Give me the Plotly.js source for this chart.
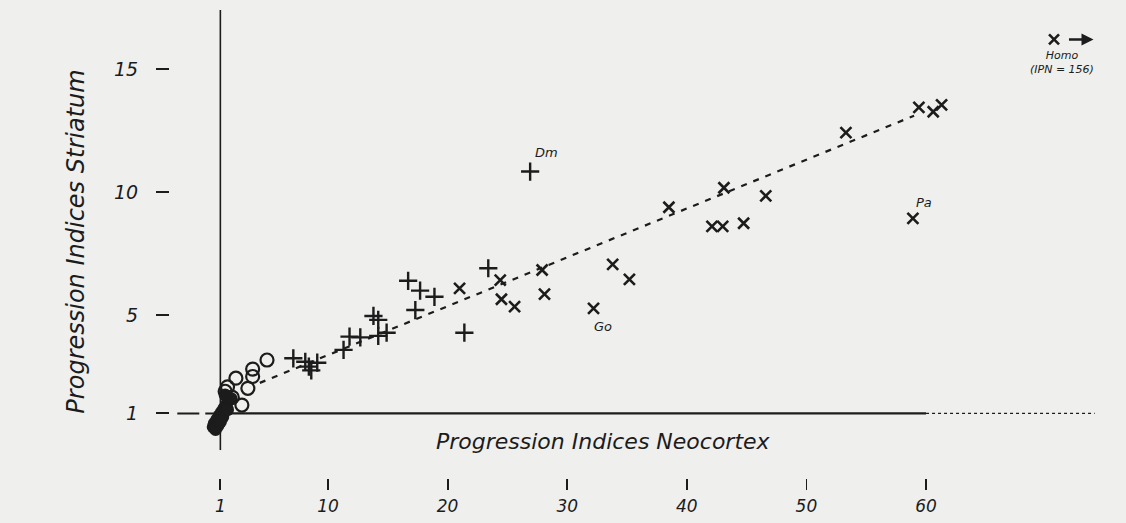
<!DOCTYPE html>
<html>
<head>
<meta charset="utf-8">
<script src="https://cdn.plot.ly/plotly-3.0.1.min.js"></script>
<style>
  html, body { margin: 0; padding: 0; background: #efefed; }
  #chart { width: 1126px; height: 523px; }
</style>
</head>
<body>
<div id="chart"></div>
<script>
// ---- data ----
// filled circles (cluster at origin)
const filledX = [0.4, 0.5, 0.7, 0.9, 1.1, 1.3, 1.5, 1.7, 0.8, 1.2, 1.6, 1.9, 1.4, 0.6, 1.0];
const filledY = [0.45, 0.6, 0.75, 0.9, 1.05, 1.2, 1.35, 1.55, 0.5, 0.85, 1.15, 1.6, 1.75, 0.35, 0.65];
// open circles
const openX = [4.9, 3.7, 3.7, 2.3, 3.3, 2.8, 1.6, 1.4, 2.0];
const openY = [3.17, 2.8, 2.5, 2.43, 2.02, 1.34, 2.08, 1.9, 1.65];
// plus markers
const plusX = [7.1, 8.1, 8.4, 9.1, 8.6, 11.3, 11.8, 12.7, 13.8, 14.2, 14.2, 14.9, 16.7, 17.7, 18.9, 17.3, 21.4, 23.4, 26.9];
const plusY = [3.24, 3.1, 2.9, 3.06, 2.75, 3.58, 4.12, 4.09, 4.96, 4.8, 4.15, 4.28, 6.39, 5.99, 5.74, 5.2, 4.28, 6.9, 10.83];
// x markers
const crossX = [21.0, 24.4, 24.5, 25.6, 27.9, 28.1, 33.8, 35.2, 32.2, 38.5, 43.1, 42.1, 43.0, 44.75, 46.6, 53.3, 59.4, 60.6, 61.3, 58.9];
const crossY = [6.08, 6.42, 5.64, 5.34, 6.83, 5.85, 7.06, 6.45, 5.27, 9.38, 10.17, 8.6, 8.6, 8.73, 9.84, 12.41, 13.44, 13.26, 13.54, 8.93];
// Homo (off-scale, shown at top right)
const homoX = [70.7];
const homoY = [16.2];
// regression line end points
const fitX = [4.3, 59.0];
const fitY = [2.24, 13.1];
// named points
const namedLabels = ['Dm', 'Go', 'Pa'];
const namedX = [26.9, 32.2, 58.9];
const namedY = [10.83, 5.27, 8.93];
// tick labels
const xTicks = [1, 10, 20, 30, 40, 50, 60];
const yTicks = [1, 5, 10, 15];

const INK = '#1c1c1c';
const FONT = 'DejaVu Sans, Liberation Sans, sans-serif';

const traces = [
  { x: fitX, y: fitY, mode: 'lines', line: { color: INK, width: 2.2, dash: '6px,7px' }, hoverinfo: 'skip' },
  { x: filledX, y: filledY, mode: 'markers', marker: { symbol: 'circle', size: 13, color: INK } },
  { x: openX, y: openY, mode: 'markers', marker: { symbol: 'circle-open', size: 13, color: INK, line: { width: 2.2, color: INK } } },
  { x: plusX, y: plusY, mode: 'markers', marker: { symbol: 'cross-thin-open', size: 13, color: INK, line: { width: 2.4, color: INK } } },
  { x: crossX, y: crossY, mode: 'markers', marker: { symbol: 'x-thin-open', size: 11, color: INK, line: { width: 2.6, color: INK } } },
  { x: homoX, y: homoY, mode: 'markers', marker: { symbol: 'x-thin-open', size: 10, color: INK, line: { width: 2.6, color: INK } } }
];

const annotations = [];
const shifts = [[16, 19], [9, -18], [11, 16]];
namedLabels.forEach((t, i) => {
  annotations.push({
    x: namedX[i], y: namedY[i], text: t, showarrow: false,
    xshift: shifts[i][0], yshift: shifts[i][1],
    font: { family: FONT, size: 13, color: INK, style: 'italic' }
  });
});
// Homo arrow and label
annotations.push({
  x: homoX[0] + 3.3, y: homoY[0], ax: -26, ay: 0, axref: 'pixel', ayref: 'pixel',
  text: '', showarrow: true, arrowhead: 2, arrowsize: 1, arrowwidth: 2.4, arrowcolor: INK
});
annotations.push({
  x: homoX[0] + 0.7, y: homoY[0], yshift: -23, showarrow: false,
  text: 'Homo<br>(IPN = 156)', align: 'center',
  font: { family: FONT, size: 11, color: INK, style: 'italic' }
});
// x axis title inside the plot area, below the axis line
annotations.push({
  x: 33, y: 1, yshift: -28, showarrow: false,
  text: 'Progression Indices Neocortex',
  font: { family: FONT, size: 22, color: INK, style: 'italic' }
});

const shapes = [
  // vertical axis line at x = 1
  { type: 'line', x0: 1, x1: 1, y0: 1, y1: 17.4, line: { color: INK, width: 1.6 } },
  { type: 'line', x0: 1, x1: 1, y0: -0.49, y1: 0.33, line: { color: INK, width: 1.6 } },
  // horizontal axis line at y = 1
  { type: 'line', x0: 1, x1: 60, y0: 1, y1: 1, line: { color: INK, width: 2.4 } },
  { type: 'line', x0: 60, x1: 74.1, y0: 1, y1: 1, line: { color: INK, width: 1.4, dash: 'dot' } },
  // dashed extension of the y = 1 tick
  { type: 'line', x0: -2.6, x1: 1, y0: 1, y1: 1, line: { color: INK, width: 2, dash: '22px,6px' } }
];

const layout = {
  width: 1126, height: 523,
  margin: { l: 170, r: 16, t: 5, b: 45 },
  paper_bgcolor: '#efefed', plot_bgcolor: '#efefed',
  showlegend: false,
  xaxis: {
    range: [-3.21, 75.38], tickvals: xTicks, ticktext: xTicks.map(String),
    showgrid: false, zeroline: false, showline: false,
    ticks: 'outside', ticklen: 11, tickwidth: 1.8, tickcolor: INK,
    ticklabelstandoff: 2,
    tickfont: { family: FONT, size: 17, color: INK, style: 'italic' }
  },
  yaxis: {
    range: [-1.626, 17.6], tickvals: yTicks, ticktext: yTicks.map(String),
    showgrid: false, zeroline: false, showline: false,
    ticks: 'outside', ticklen: 13, tickwidth: 2.2, tickcolor: INK,
    ticklabelstandoff: 14,
    tickfont: { family: FONT, size: 19, color: INK, style: 'italic' },
    title: { text: 'Progression Indices Striatum', standoff: 22,
             font: { family: FONT, size: 24, color: INK, style: 'italic' } }
  },
  shapes: shapes,
  annotations: annotations
};

Plotly.newPlot('chart', traces, layout, { displayModeBar: false, staticPlot: true });
</script>
</body>
</html>
